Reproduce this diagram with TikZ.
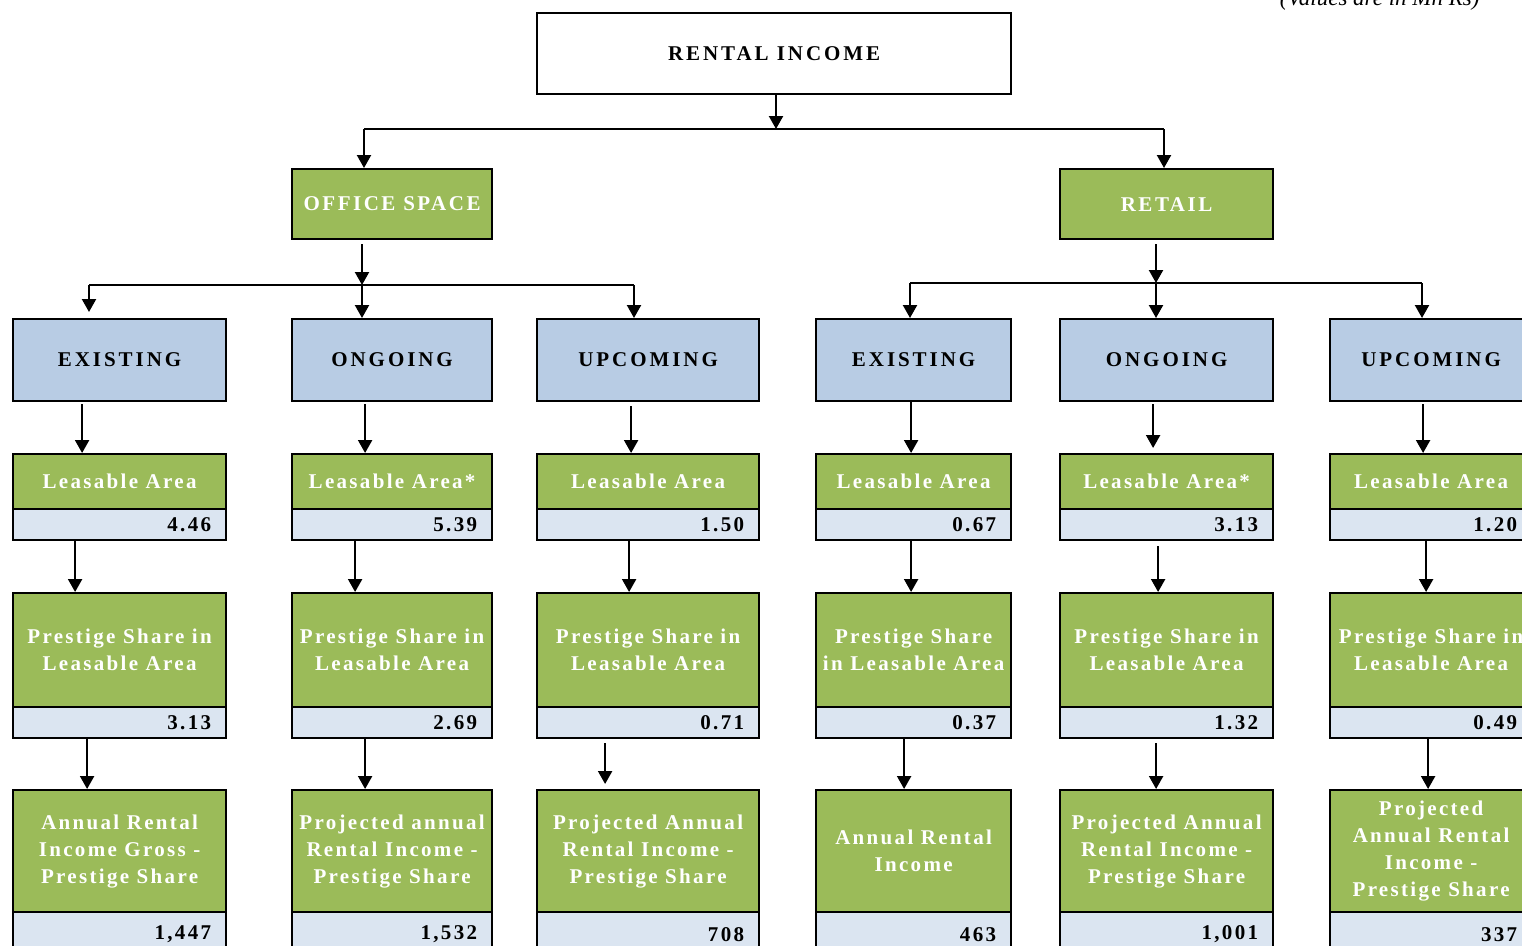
\documentclass[tikz,border=0pt]{standalone}
\usepackage{fontspec}
\setmainfont{Liberation Serif}
\newfontfamily\capf[LetterSpace=14]{Liberation Serif}
\newfontfamily\capg[LetterSpace=12]{Liberation Serif}
\newfontfamily\txtf[LetterSpace=11]{Liberation Serif}
\usetikzlibrary{arrows.meta}
\definecolor{grn}{HTML}{9BBB59}
\definecolor{hdrc}{HTML}{B8CCE4}
\definecolor{valc}{HTML}{DBE5F1}
\tikzset{
  box/.style={draw=black, line width=2.2pt, inner sep=0pt, align=center, anchor=north west},
  topbox/.style={box, fill=white, font=\capf\bfseries\fontsize{21}{27}\selectfont},
  catbox/.style={box, fill=grn, text=white, font=\capg\bfseries\fontsize{21}{27}\selectfont},
  hdr/.style={box, fill=hdrc, minimum height=82pt, font=\capf\bfseries\fontsize{21}{27}\selectfont},
  gbox/.style={box, fill=grn, text=white, font=\txtf\bfseries\fontsize{21}{27}\selectfont},
  vbox/.style={box, fill=valc, align=right, inner xsep=15pt, inner ysep=0pt, font=\txtf\bfseries\fontsize{21}{22}\selectfont},
  arr/.style={draw=black, line width=2.2pt, -{Triangle[length=13pt,width=14pt]}},
  ln/.style={draw=black, line width=2.2pt},
}
\begin{document}
\begin{tikzpicture}[x=1pt,y=-1pt]
\useasboundingbox (0,0) rectangle (1522,945);

\node[anchor=base east, font=\itshape\fontsize{23}{26}\selectfont] (note) at (1483,5) {(Values are in Mn Rs)};

% top
\node[topbox, minimum width=474pt, minimum height=81pt] (ri) at (536,12) {RENTAL INCOME};
\node[catbox, minimum width=200pt, minimum height=70pt] (off) at (291,168) {OFFICE SPACE};
\node[catbox, minimum width=213pt, minimum height=70pt] (ret) at (1059,168) {RETAIL};

% level 2 headers
\node[hdr, minimum width=213pt] (oe) at (12,318) {EXISTING};
\node[hdr, minimum width=200pt] (oo) at (291,318) {ONGOING};
\node[hdr, minimum width=222pt] (ou) at (536,318) {UPCOMING};
\node[hdr, minimum width=195pt] (re) at (815,318) {EXISTING};
\node[hdr, minimum width=213pt] (ro) at (1059,318) {ONGOING};
\node[hdr, minimum width=202pt] (ru) at (1329,318) {UPCOMING};

% leasable area
\node[gbox, minimum width=213pt, minimum height=55pt] (oeL) at (12,453) {Leasable Area};
\node[gbox, minimum width=200pt, minimum height=55pt] (ooL) at (291,453) {Leasable Area*};
\node[gbox, minimum width=222pt, minimum height=55pt] (ouL) at (536,453) {Leasable Area};
\node[gbox, minimum width=195pt, minimum height=55pt] (reL) at (815,453) {Leasable Area};
\node[gbox, minimum width=213pt, minimum height=55pt] (roL) at (1059,453) {Leasable Area*};
\node[gbox, minimum width=202pt, minimum height=55pt] (ruL) at (1329,453) {Leasable Area};

\node[vbox, text width=183pt, minimum height=31pt] (oeLv) at (12,508) {4.46};
\node[vbox, text width=170pt, minimum height=31pt] (ooLv) at (291,508) {5.39};
\node[vbox, text width=192pt, minimum height=31pt] (ouLv) at (536,508) {1.50};
\node[vbox, text width=165pt, minimum height=31pt] (reLv) at (815,508) {0.67};
\node[vbox, text width=183pt, minimum height=31pt] (roLv) at (1059,508) {3.13};
\node[vbox, text width=172pt, minimum height=31pt] (ruLv) at (1329,508) {1.20};

% prestige share
\node[gbox, minimum width=213pt, minimum height=114pt] (oeP) at (12,592) {Prestige Share in\\Leasable Area};
\node[gbox, minimum width=200pt, minimum height=114pt] (ooP) at (291,592) {Prestige Share in\\Leasable Area};
\node[gbox, minimum width=222pt, minimum height=114pt] (ouP) at (536,592) {Prestige Share in\\Leasable Area};
\node[gbox, minimum width=195pt, minimum height=114pt] (reP) at (815,592) {Prestige Share\\in Leasable Area};
\node[gbox, minimum width=213pt, minimum height=114pt] (roP) at (1059,592) {Prestige Share in\\Leasable Area};
\node[gbox, minimum width=202pt, minimum height=114pt] (ruP) at (1329,592) {Prestige Share in\\Leasable Area};

\node[vbox, text width=183pt, minimum height=31pt] (oePv) at (12,706) {3.13};
\node[vbox, text width=170pt, minimum height=31pt] (ooPv) at (291,706) {2.69};
\node[vbox, text width=192pt, minimum height=31pt] (ouPv) at (536,706) {0.71};
\node[vbox, text width=165pt, minimum height=31pt] (rePv) at (815,706) {0.37};
\node[vbox, text width=183pt, minimum height=31pt] (roPv) at (1059,706) {1.32};
\node[vbox, text width=172pt, minimum height=31pt] (ruPv) at (1329,706) {0.49};

% annual income
\node[gbox, minimum width=213pt, minimum height=122pt] (oeA) at (12,789) {Annual Rental\\Income Gross -\\Prestige Share};
\node[gbox, minimum width=200pt, minimum height=122pt] (ooA) at (291,789) {Projected annual\\Rental Income -\\Prestige Share};
\node[gbox, minimum width=222pt, minimum height=122pt] (ouA) at (536,789) {Projected Annual\\Rental Income -\\Prestige Share};
\node[gbox, minimum width=195pt, minimum height=122pt] (reA) at (815,789) {Annual Rental\\Income};
\node[gbox, minimum width=213pt, minimum height=122pt] (roA) at (1059,789) {Projected Annual\\Rental Income -\\Prestige Share};
\node[gbox, minimum width=202pt, minimum height=122pt] (ruA) at (1329,789) {Projected\\Annual Rental\\Income -\\Prestige Share};

\node[vbox, text width=183pt, minimum height=45pt] (oeAv) at (12,911) {1,447};
\node[vbox, text width=170pt, minimum height=45pt] (ooAv) at (291,911) {1,532};
\node[vbox, text width=192pt, minimum height=45pt] (ouAv) at (536,911) {708};
\node[vbox, text width=165pt, minimum height=45pt] (reAv) at (815,911) {463};
\node[vbox, text width=183pt, minimum height=45pt] (roAv) at (1059,911) {1,001};
\node[vbox, text width=172pt, minimum height=45pt] (ruAv) at (1329,911) {337};

% top connectors
\coordinate (t0) at (776,129);
\coordinate (tl) at (364,129);
\coordinate (tr) at (1164,129);
\draw[arr] (ri.south -| t0) -- (t0);
\draw[ln] (tl) -- (tr);
\draw[arr] (tl) -- (off.north -| tl);
\draw[arr] (tr) -- (ret.north -| tr);

% office connectors
\coordinate (o0) at (362,285);
\coordinate (oL) at (89,285);
\coordinate (oR) at (634,285);
\draw[arr, shorten <=4pt] (off.south -| o0) -- (o0);
\draw[ln] (oL) -- (oR);
\draw[arr, shorten >=6pt] (oL) -- (oe.north -| oL);
\draw[arr] (o0) -- (oo.north -| o0);
\draw[arr] (oR) -- (ou.north -| oR);

% retail connectors
\coordinate (r0) at (1156,283);
\coordinate (rL) at (910,283);
\coordinate (rR) at (1422,283);
\draw[arr, shorten <=4pt] (ret.south -| r0) -- (r0);
\draw[ln] (rL) -- (rR);
\draw[arr] (rL) -- (re.north -| rL);
\draw[arr] (r0) -- (ro.north -| r0);
\draw[arr] (rR) -- (ru.north -| rR);

% column connectors
\draw[arr, shorten <=2pt] ([xshift=-37.5pt]oe.south) -- ([xshift=-37.5pt]oeL.north);
\draw[arr] ([xshift=-44.5pt]oeLv.south) -- ([xshift=-44.5pt]oeP.north);
\draw[arr] ([xshift=-32.5pt]oePv.south) -- ([xshift=-32.5pt]oeA.north);

\draw[arr, shorten <=2pt] ([xshift=-27pt]oo.south) -- ([xshift=-27pt]ooL.north);
\draw[arr] ([xshift=-37pt]ooLv.south) -- ([xshift=-37pt]ooP.north);
\draw[arr] ([xshift=-27pt]ooPv.south) -- ([xshift=-27pt]ooA.north);

\draw[arr, shorten <=4pt] ([xshift=-17pt]ou.south) -- ([xshift=-17pt]ouL.north);
\draw[arr] ([xshift=-19pt]ouLv.south) -- ([xshift=-19pt]ouP.north);
\draw[arr, shorten <=4pt, shorten >=5pt] ([xshift=-43pt]ouPv.south) -- ([xshift=-43pt]ouA.north);

\draw[arr] ([xshift=-2.5pt]re.south) -- ([xshift=-2.5pt]reL.north);
\draw[arr] ([xshift=-2.5pt]reLv.south) -- ([xshift=-2.5pt]reP.north);
\draw[arr] ([xshift=-9.5pt]rePv.south) -- ([xshift=-9.5pt]reA.north);

\draw[arr, shorten <=2pt, shorten >=5pt] ([xshift=-13.5pt]ro.south) -- ([xshift=-13.5pt]roL.north);
\draw[arr, shorten <=5pt] ([xshift=-8.5pt]roLv.south) -- ([xshift=-8.5pt]roP.north);
\draw[arr, shorten <=4pt] ([xshift=-10.5pt]roPv.south) -- ([xshift=-10.5pt]roA.north);

\draw[arr, shorten <=2pt] ([xshift=-8pt]ru.south) -- ([xshift=-8pt]ruL.north);
\draw[arr] ([xshift=-5pt]ruLv.south) -- ([xshift=-5pt]ruP.north);
\draw[arr] ([xshift=-3pt]ruPv.south) -- ([xshift=-3pt]ruA.north);
\end{tikzpicture}
\end{document}
